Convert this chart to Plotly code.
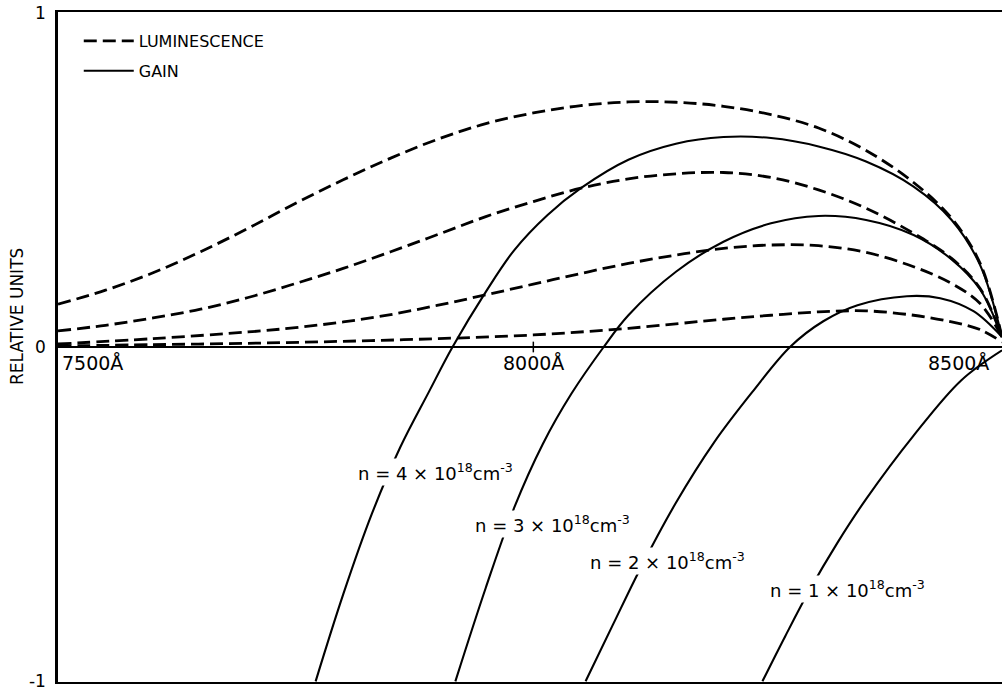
import plotly.graph_objects as go

# Wavelength axis ticks (Angstrom)
wavelength_ticks = [7500, 8000, 8500]
wavelength_labels = ["7500Å", "8000Å", "8500Å"]

# Luminescence spectra (relative units) for the four carrier densities
lum_n4_x = [7500, 7550, 7600, 7650, 7700, 7750, 7800, 7850, 7900, 7950, 8000, 8050, 8100, 8150, 8200, 8250, 8300, 8350, 8400, 8440, 8470, 8493]
lum_n4_y = [0.128, 0.170, 0.222, 0.285, 0.355, 0.430, 0.500, 0.565, 0.622, 0.668, 0.700, 0.722, 0.733, 0.732, 0.720, 0.695, 0.655, 0.588, 0.492, 0.385, 0.250, 0.030]

lum_n3_x = [7500, 7550, 7600, 7650, 7700, 7750, 7800, 7850, 7900, 7950, 8000, 8050, 8100, 8150, 8200, 8250, 8300, 8350, 8400, 8440, 8470, 8493]
lum_n3_y = [0.048, 0.065, 0.087, 0.113, 0.148, 0.190, 0.235, 0.285, 0.337, 0.390, 0.435, 0.475, 0.503, 0.518, 0.522, 0.507, 0.470, 0.415, 0.340, 0.265, 0.175, 0.030]

lum_n2_x = [7500, 7600, 7700, 7750, 7800, 7850, 7900, 7950, 8000, 8050, 8100, 8150, 8200, 8250, 8300, 8350, 8400, 8440, 8470, 8493]
lum_n2_y = [0.009, 0.025, 0.045, 0.058, 0.075, 0.097, 0.125, 0.156, 0.188, 0.220, 0.250, 0.275, 0.295, 0.305, 0.303, 0.283, 0.240, 0.190, 0.130, 0.030]

lum_n1_x = [7500, 7600, 7700, 7800, 7900, 8000, 8100, 8200, 8250, 8300, 8350, 8400, 8440, 8470, 8493]
lum_n1_y = [0.003, 0.007, 0.011, 0.017, 0.025, 0.036, 0.056, 0.083, 0.095, 0.105, 0.108, 0.095, 0.075, 0.052, 0.015]

# Gain spectra (relative units)
gain_n4_x = [7771, 7800, 7830, 7860, 7890, 7915, 7950, 7980, 8015, 8050, 8100, 8150, 8200, 8250, 8300, 8350, 8400, 8440, 8470, 8493]
gain_n4_y = [-1.0, -0.740, -0.500, -0.300, -0.135, 0.0, 0.165, 0.290, 0.395, 0.475, 0.560, 0.608, 0.628, 0.625, 0.600, 0.555, 0.480, 0.380, 0.245, 0.030]

gain_n3_x = [7918, 7950, 7980, 8010, 8040, 8074, 8100, 8150, 8200, 8250, 8300, 8350, 8400, 8440, 8470, 8493]
gain_n3_y = [-1.0, -0.720, -0.480, -0.290, -0.140, 0.0, 0.095, 0.225, 0.315, 0.370, 0.392, 0.380, 0.335, 0.262, 0.172, 0.030]

gain_n2_x = [8055, 8084, 8112, 8150, 8190, 8230, 8270, 8305, 8341, 8393, 8428, 8463, 8493]
gain_n2_y = [-1.0, -0.829, -0.666, -0.466, -0.286, -0.136, 0.0, 0.077, 0.125, 0.152, 0.146, 0.107, 0.030]

gain_n1_x = [8241, 8265, 8290, 8320, 8350, 8400, 8450, 8493]
gain_n1_y = [-1.0, -0.865, -0.730, -0.585, -0.455, -0.265, -0.100, -0.010]

# Carrier density labels and where they sit on the chart
density_labels = ["n = 4 × 10<sup>18</sup>cm<sup>-3</sup>",
                  "n = 3 × 10<sup>18</sup>cm<sup>-3</sup>",
                  "n = 2 × 10<sup>18</sup>cm<sup>-3</sup>",
                  "n = 1 × 10<sup>18</sup>cm<sup>-3</sup>"]
label_x = [7897, 8020, 8141, 8331]
label_y = [-0.374, -0.529, -0.639, -0.725]

FONT = "DejaVu Sans"
INK = "black"

fig = go.Figure()

lum_sets = [(lum_n4_x, lum_n4_y), (lum_n3_x, lum_n3_y), (lum_n2_x, lum_n2_y), (lum_n1_x, lum_n1_y)]
gain_sets = [(gain_n4_x, gain_n4_y), (gain_n3_x, gain_n3_y), (gain_n2_x, gain_n2_y), (gain_n1_x, gain_n1_y)]

for i, (xs, ys) in enumerate(lum_sets):
    fig.add_trace(go.Scatter(
        x=xs, y=ys, mode="lines", name="LUMINESCENCE",
        showlegend=(i == 0), legendrank=1, legendgroup="lum",
        line=dict(color=INK, width=2.8, dash="13px,6px", shape="spline", smoothing=1.0),
        hoverinfo="skip"))

for i, (xs, ys) in enumerate(gain_sets):
    fig.add_trace(go.Scatter(
        x=xs, y=ys, mode="lines", name="GAIN",
        showlegend=(i == 0), legendrank=2, legendgroup="gain",
        line=dict(color=INK, width=2.1, shape="spline", smoothing=1.0),
        hoverinfo="skip"))

annotations = []
# Wavelength tick labels sit just under the zero line; the last one is pulled
# in from the right edge of the axis
tick_pos = [wavelength_ticks[0], wavelength_ticks[1], 8493]
for tv, tt, anchor, shift in zip(tick_pos, wavelength_labels,
                                 ["left", "center", "right"], [2, 0, -11]):
    annotations.append(dict(x=tv, y=0, xref="x", yref="y", text=tt, showarrow=False,
                            xanchor=anchor, yanchor="top", xshift=shift, yshift=-3,
                            font=dict(family=FONT, size=19, color=INK)))

for txt, lx, ly in zip(density_labels, label_x, label_y):
    annotations.append(dict(x=lx, y=ly, xref="x", yref="y", text=txt, showarrow=False,
                            xanchor="center", yanchor="middle", bgcolor="white", borderpad=1,
                            font=dict(family=FONT, size=18, color=INK)))

annotations.append(dict(x=-0.0434, y=0.09, xref="paper", yref="y", text="RELATIVE UNITS",
                        showarrow=False, textangle=-90, xanchor="center", yanchor="middle",
                        font=dict(family=FONT, size=17, color=INK)))

# Small tick mark crossing the zero line at 8000 Å
shapes = []
for tv in wavelength_ticks[1:2]:
    shapes.append(dict(type="line", xref="x", yref="y", x0=tv, x1=tv, y0=-0.016, y1=0.016,
                       line=dict(color=INK, width=1.5)))

fig.update_layout(
    width=1002, height=691,
    margin=dict(l=58, r=0, t=12, b=6),
    paper_bgcolor="white", plot_bgcolor="white",
    font=dict(family=FONT, color=INK),
    showlegend=True,
    legend=dict(x=0.022, y=0.982, xanchor="left", yanchor="top",
                bgcolor="rgba(0,0,0,0)", borderwidth=0, itemwidth=50,
                font=dict(family=FONT, size=16, color=INK), tracegroupgap=6),
    annotations=annotations,
    shapes=shapes,
)

fig.update_xaxes(range=[7500, 8493], showgrid=False, zeroline=False,
                 showline=True, mirror=True, linecolor=INK, linewidth=2,
                 showticklabels=False, ticks="")
fig.update_yaxes(range=[-1.002, 1.002], showgrid=False, zeroline=True, zerolinecolor=INK,
                 zerolinewidth=1.6, showline=True, linecolor=INK, linewidth=2.5,
                 tickvals=[-1, 0, 1], ticktext=["-1", "0", "1"], ticks="",
                 ticklabelstandoff=6, ticklabeloverflow="allow",
                 tickfont=dict(family=FONT, size=17, color=INK))

fig.write_html("out.html")
